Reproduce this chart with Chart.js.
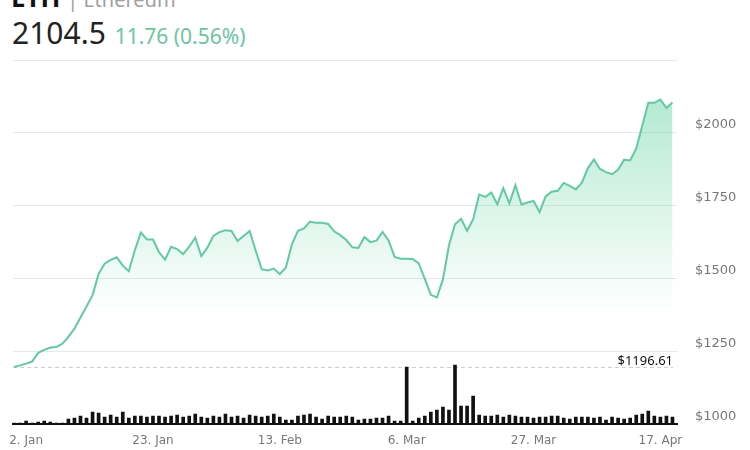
<!DOCTYPE html>
<html>
<head>
<meta charset="utf-8">
<script src="https://cdn.jsdelivr.net/npm/chart.js@4.4.0/dist/chart.umd.min.js"></script>
<style>
    html, body { margin: 0; padding: 0; background: #fff; }
    #wrap { position: relative; width: 750px; height: 450px; overflow: hidden; }
    #chart { position: absolute; left: 0; top: 0; }
    .sym { position: absolute; left: 11px; top: -21px; line-height: 26px; font: bold 26px 'Noto Sans', sans-serif; color: #111; white-space: nowrap; }
    .sym span { font-weight: normal; font-size: 20px; color: #a0a0a0; }
    .price { position: absolute; left: 12px; top: 12px; line-height: 30px; font: 30px 'Noto Sans', sans-serif; color: #222; white-space: nowrap; }
    .price span { font-size: 21px; color: #6cc4a1; margin-left: 1px; }
</style>
</head>
<body>
<div id="wrap">
    <div class="sym">ETH <span>| Ethereum</span></div>
    <div class="price">2104.5 <span>11.76 (0.56%)</span></div>
    <canvas id="chart" width="750" height="450"></canvas>
</div>
<script>
// --- Data (one value per day, starting 31 Dec) ---
const startPrice = 1196.61;
const prices = [
    1196.61, 1202, 1208, 1215, 1245, 1255, 1263, 1265, 1276, 1300,
    1328, 1366, 1404, 1443, 1516, 1551, 1564, 1573, 1544, 1525,
    1597, 1658, 1634, 1634, 1590, 1565, 1609, 1601, 1584, 1609,
    1640, 1577, 1606, 1646, 1659, 1666, 1663, 1629, 1646, 1663,
    1596, 1532, 1528, 1534, 1515, 1538, 1617, 1664, 1672, 1695,
    1691, 1691, 1687, 1662, 1649, 1632, 1607, 1605, 1642, 1625,
    1630, 1660, 1631, 1574, 1568, 1568, 1567, 1552, 1499, 1444,
    1435, 1497, 1613, 1686, 1705, 1664, 1703, 1788, 1780, 1795,
    1755, 1810, 1758, 1820, 1754, 1761, 1766, 1728, 1782, 1798,
    1801, 1828, 1818, 1806, 1829, 1879, 1908, 1876, 1865, 1858,
    1873, 1908, 1905, 1946, 2024, 2103, 2103, 2114, 2085, 2104.5
];
// volume in billions
const volumes = [
    0.6, 0.6, 1.7, 0.6, 1.1, 1.7, 1.1, 0.6, 0.6,
    2.8, 3.3, 4.4, 3.3, 6.6, 6.1, 3.9, 5.0, 3.9, 6.6,
    3.3, 4.4, 4.4, 3.9, 4.4, 4.4, 3.9, 4.4, 5.0, 3.9,
    4.4, 5.5, 3.9, 3.3, 4.4, 3.9, 5.5, 3.9, 4.4, 3.3,
    5.0, 4.4, 3.9, 4.4, 5.5, 3.9, 2.2, 2.2, 4.4, 5.0,
    5.5, 3.9, 2.8, 4.4, 3.9, 3.9,
    4.4, 3.9, 2.2, 2.8, 2.8, 3.3, 3.3, 4.4, 1.7, 1.7,
    31.4, 1.7, 3.3, 4.4, 6.6, 7.7, 9.4, 7.7, 32.5, 9.9, 9.9, 15.4,
    5.0, 4.4, 4.4, 5.0, 3.9, 5.0, 4.4, 3.9, 3.9, 3.3,
    3.9, 3.9, 4.4, 4.4, 3.3, 2.8, 3.9, 3.9, 3.9, 3.3,
    3.9, 2.2, 3.9,
    3.3, 2.8, 3.3, 5.0, 5.5, 7.2, 4.4, 3.9, 4.4, 3.9
];
const tickDays = [2, 23, 44, 65, 86, 107];
const tickLabels = ['2. Jan', '23. Jan', '13. Feb', '6. Mar', '27. Mar', '17. Apr'];
const priceTicks = [1000, 1250, 1500, 1750, 2000, 2250];

const pricePoints = prices.map((v, i) => ({ x: i, y: v }));
const volumePoints = volumes.map((v, i) => ({ x: i, y: v }));

// --- Dashed start price line with label ---
const startLine = {
    id: 'startLine',
    beforeDatasetsDraw(chart) {
        const { ctx, chartArea, scales } = chart;
        const y = Math.round(scales.y.getPixelForValue(startPrice)) + 0.5;
        ctx.save();
        ctx.strokeStyle = '#cfcfcf';
        ctx.lineWidth = 1;
        ctx.setLineDash([4, 3]);
        ctx.beginPath();
        ctx.moveTo(chartArea.left, y);
        ctx.lineTo(chartArea.right - 4, y);
        ctx.stroke();
        ctx.setLineDash([]);
        ctx.font = '13px "Noto Sans"';
        ctx.fillStyle = '#111';
        ctx.textAlign = 'right';
        ctx.textBaseline = 'alphabetic';
        ctx.fillText('$' + startPrice.toFixed(2), chartArea.right - 4, y - 3);
        ctx.restore();
    }
};

Chart.defaults.font.family = 'DejaVu Sans';
Chart.defaults.color = '#777';

new Chart(document.getElementById('chart'), {
    data: {
        datasets: [{
            type: 'bar',
            data: volumePoints,
            yAxisID: 'vol',
            backgroundColor: '#111',
            barThickness: 3,
            order: 0
        }, {
            type: 'line',
            data: pricePoints,
            yAxisID: 'y',
            borderColor: '#62c9a3',
            borderWidth: 2,
            pointRadius: 0,
            tension: 0,
            fill: 'start',
            backgroundColor: function(context) {
                const area = context.chart.chartArea;
                if (!area) return 'transparent';
                const g = context.chart.ctx.createLinearGradient(0, area.top, 0, area.bottom);
                g.addColorStop(0, 'rgba(95, 210, 160, 0.55)');
                g.addColorStop(0.7, 'rgba(95, 210, 160, 0)');
                return g;
            },
            order: 1
        }]
    },
    options: {
        responsive: false,
        animation: false,
        layout: { padding: { left: 12, top: 60, right: 0, bottom: 0 } },
        plugins: { legend: { display: false }, tooltip: { enabled: false } },
        scales: {
            x: {
                type: 'linear',
                offset: false,
                min: -0.17,
                max: 109.75,
                grid: { display: false, drawTicks: false, offset: false },
                border: { display: true, color: '#111', width: 2 },
                afterBuildTicks: function(scale) {
                    scale.ticks = tickDays.map(d => ({ value: d }));
                },
                afterFit: function(scale) { scale.height = 25; },
                ticks: {
                    autoSkip: false,
                    maxRotation: 0,
                    padding: 9,
                    font: { size: 12 },
                    callback: function(value) {
                        const k = tickDays.indexOf(value);
                        return k >= 0 ? tickLabels[k] : '';
                    }
                }
            },
            y: {
                position: 'right',
                min: 1000,
                max: 2250,
                grid: { color: '#e8e8e8', drawTicks: false },
                border: { display: false },
                afterBuildTicks: function(scale) {
                    scale.ticks = priceTicks.map(v => ({ value: v }));
                },
                afterFit: function(scale) { scale.width = 73; },
                ticks: {
                    padding: 18,
                    labelOffset: -8,
                    font: { size: 13 },
                    callback: function(value) {
                        return value === 2250 ? '' : '$' + value;
                    }
                }
            },
            vol: {
                display: false,
                min: 0,
                max: 200
            }
        }
    },
    plugins: [startLine]
});
</script>
</body>
</html>
